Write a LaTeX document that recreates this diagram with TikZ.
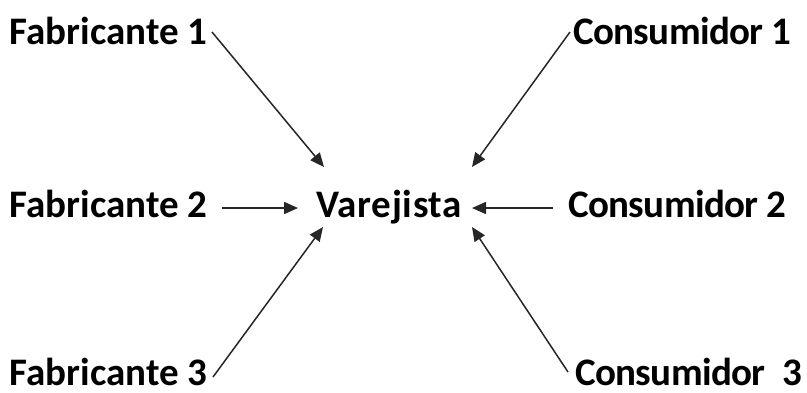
\documentclass[tikz,border=0pt]{standalone}
\usepackage{fontspec}
\setmainfont{Carlito}
\usetikzlibrary{arrows.meta,calc}
\tikzset{
  lbl/.style={anchor=base west,inner sep=0pt,font=\fontsize{39pt}{42pt}\selectfont\bfseries,text=black},
  fab/.style={lbl},
  cons/.style={lbl,font=\fontsize{39pt}{42pt}\selectfont\bfseries\addfontfeature{LetterSpace=-1.6}},
  ret/.style={lbl,font=\fontsize{39pt}{42pt}\selectfont\bfseries\addfontfeature{LetterSpace=1.8}},
  arr/.style={line width=1.5pt,draw=black!85,-{Triangle[length=14pt,width=12pt]}}
}
\begin{document}
\begin{tikzpicture}[x=1pt,y=-1pt]
\useasboundingbox (0,0) rectangle (807,392);
\node[fab] (f1) at (9.5,44) {Fabricante 1};
\node[fab] (f2) at (9.5,217) {Fabricante 2};
\node[fab] (f3) at (9.5,385) {Fabricante 3};
\node[ret] (v) at (316,217) {Varejista};
\node[cons] (c1) at (573,44) {Consumidor 1};
\node[cons] (c2) at (568,217) {Consumidor 2};
\node[cons] (c3) at (575,385) {Consumidor\ \ 3};
\draw[arr] ($(f1.base west)+(202.5,-12)$) -- ($(v.base west)+(8,-50)$);
\draw[arr] ($(f2.base west)+(212.5,-9)$) -- ($(v.base west)+(-18,-9)$);
\draw[arr] ($(f3.base west)+(203.5,-8)$) -- ($(v.base west)+(7,10)$);
\draw[arr] ($(c1.base west)+(-3,-12)$) -- ($(v.base west)+(156,-50)$);
\draw[arr] ($(c2.base west)+(-15,-9)$) -- ($(v.base west)+(156,-9)$);
\draw[arr] ($(c3.base west)+(-7,-13)$) -- ($(v.base west)+(156,10)$);
\end{tikzpicture}
\end{document}
